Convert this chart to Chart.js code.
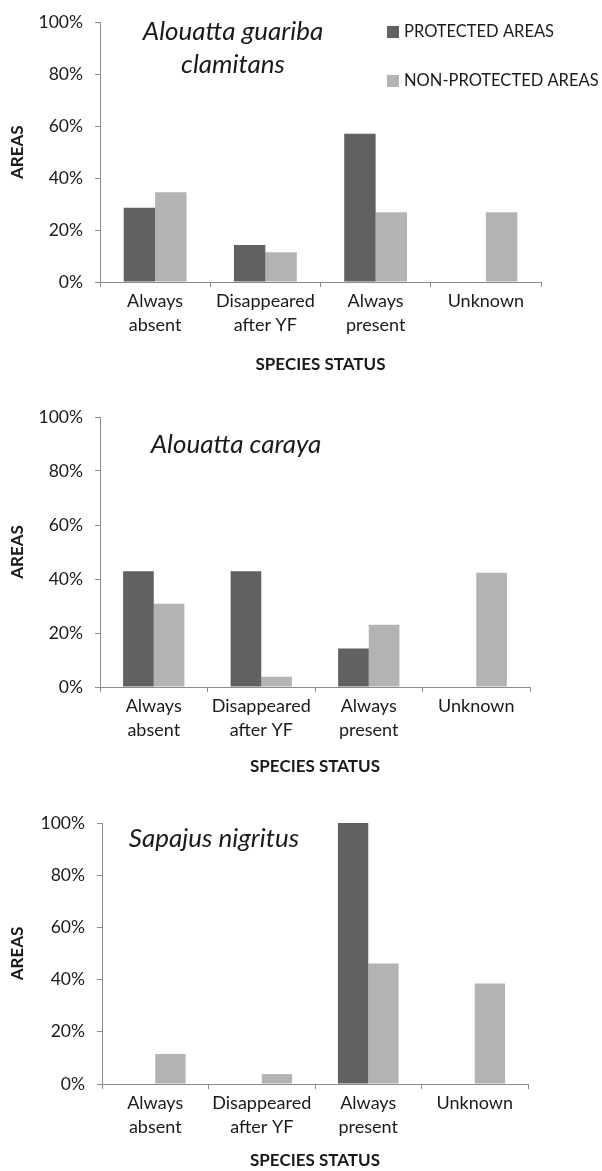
<!DOCTYPE html>
<html>
<head>
<meta charset="utf-8">
<script src="https://cdn.jsdelivr.net/npm/chart.js@4.4.0/dist/chart.umd.min.js"></script>
<style>
    body { margin: 0; background: #ffffff; }
    .bloco { position: absolute; left: 0; width: 602px; }
</style>
</head>
<body>
<div class="bloco" style="top: 0px; height: 380px;"><canvas id="graficoGuariba" width="602" height="380"></canvas></div>
<div class="bloco" style="top: 380px; height: 400px;"><canvas id="graficoCaraya" width="602" height="400"></canvas></div>
<div class="bloco" style="top: 780px; height: 391px;"><canvas id="graficoSapajus" width="602" height="391"></canvas></div>

<script>
// dados (% de areas)
var categories = [['Always', 'absent'], ['Disappeared', 'after YF'], ['Always', 'present'], ['Unknown']];
var seriesNames = ['PROTECTED AREAS', 'NON-PROTECTED AREAS'];
var yTickValues = [0, 20, 40, 60, 80, 100];

var guaribaProtected = [28.6, 14.3, 57.1, 0];
var guaribaNonProtected = [34.6, 11.5, 26.9, 26.9];

var carayaProtected = [42.9, 42.9, 14.3, 0];
var carayaNonProtected = [30.8, 3.8, 23.1, 42.3];

var sapajusProtected = [0, 0, 100, 0];
var sapajusNonProtected = [11.5, 3.8, 46.2, 38.5];

var corEscura = '#616161';
var corClara = '#b3b3b3';
var corEixo = '#8c8c8c';
var corTexto = '#1a1a1a';
var fonte = 'Lato, "Open Sans", sans-serif';

// escreve o nome da especie e (no primeiro) a legenda dentro do grafico
var textoExtra = {
    id: 'textoExtra',
    afterDraw: function(chart, args, opts) {
        var ctx = chart.ctx;
        ctx.save();
        ctx.fillStyle = corTexto;
        ctx.textBaseline = 'middle';
        ctx.textAlign = 'center';
        ctx.font = 'italic 26px ' + fonte;
        for (var i = 0; i < opts.lines.length; i++) {
            ctx.fillText(opts.lines[i], opts.x, opts.y + i * 33);
        }

        if (opts.legend) {
            ctx.textAlign = 'left';
            ctx.font = '16.5px ' + fonte;
            var datasets = chart.data.datasets;
            for (var j = 0; j < datasets.length; j++) {
                var yItem = opts.legend.y + j * opts.legend.gap;
                ctx.fillStyle = datasets[j].backgroundColor;
                ctx.fillRect(opts.legend.x, yItem - 6, 12, 12);
                ctx.fillStyle = corTexto;
                ctx.fillText(datasets[j].label, opts.legend.x + 17, yItem);
            }
        }
        ctx.restore();
    }
};

function criarGrafico(id, protegidas, naoProtegidas, layout, texto) {
    var ctx = document.getElementById(id).getContext('2d');

    new Chart(ctx, {
        type: 'bar',
        data: {
            labels: categories,
            datasets: [{
                label: seriesNames[0],
                data: protegidas,
                backgroundColor: corEscura,
                borderWidth: 0
            }, {
                label: seriesNames[1],
                data: naoProtegidas,
                backgroundColor: corClara,
                borderWidth: 0
            }]
        },
        options: {
            responsive: false,
            animation: false,
            events: [],
            layout: {
                padding: { top: layout.top, right: layout.right, bottom: 0, left: 0 }
            },
            datasets: {
                bar: { categoryPercentage: 0.57, barPercentage: 1.0 }
            },
            plugins: {
                legend: { display: false },
                tooltip: { enabled: false },
                textoExtra: texto
            },
            scales: {
                x: {
                    afterFit: function(scale) { scale.height = layout.xHeight; },
                    border: { display: true, color: corEixo, width: 1 },
                    grid: {
                        drawOnChartArea: false,
                        drawTicks: true,
                        tickLength: 5,
                        color: corEixo,
                        offset: true
                    },
                    ticks: {
                        color: corTexto,
                        padding: 2,
                        maxRotation: 0,
                        autoSkip: false,
                        font: { family: fonte, size: 18, lineHeight: 1.35 }
                    },
                    title: {
                        display: true,
                        text: 'SPECIES STATUS',
                        color: corTexto,
                        padding: { top: 0, bottom: layout.titleBottom },
                        font: { family: fonte, size: 17, weight: 'bold', lineHeight: 1.2 }
                    }
                },
                y: {
                    min: 0,
                    max: 100,
                    afterFit: function(scale) { scale.width = layout.left; },
                    afterBuildTicks: function(scale) {
                        scale.ticks = yTickValues.map(function(v) { return { value: v }; });
                    },
                    border: { display: true, color: corEixo, width: 1 },
                    grid: {
                        drawOnChartArea: false,
                        drawTicks: true,
                        tickLength: 5,
                        color: corEixo
                    },
                    ticks: {
                        color: corTexto,
                        padding: 12,
                        font: { family: fonte, size: 17.5 },
                        callback: function(value) { return value + '%'; }
                    },
                    title: {
                        display: true,
                        text: 'AREAS',
                        color: corTexto,
                        padding: { top: 7, bottom: 0 },
                        font: { family: fonte, size: 17, weight: 'bold', lineHeight: 1.2 }
                    }
                }
            }
        },
        plugins: [textoExtra]
    });
}

criarGrafico('graficoGuariba', guaribaProtected, guaribaNonProtected,
    { top: 16, right: 61, left: 100, xHeight: 98, titleBottom: 5 },
    { lines: ['Alouatta guariba', 'clamitans'], x: 233, y: 32, legend: { x: 387, y: 32, gap: 49 } });

criarGrafico('graficoCaraya', carayaProtected, carayaNonProtected,
    { top: 37, right: 72, left: 100, xHeight: 93, titleBottom: 3 },
    { lines: ['Alouatta caraya'], x: 236, y: 65 });

criarGrafico('graficoSapajus', sapajusProtected, sapajusNonProtected,
    { top: 43, right: 74, left: 102, xHeight: 87, titleBottom: 0 },
    { lines: ['Sapajus nigritus'], x: 214, y: 59 });
</script>
</body>
</html>
